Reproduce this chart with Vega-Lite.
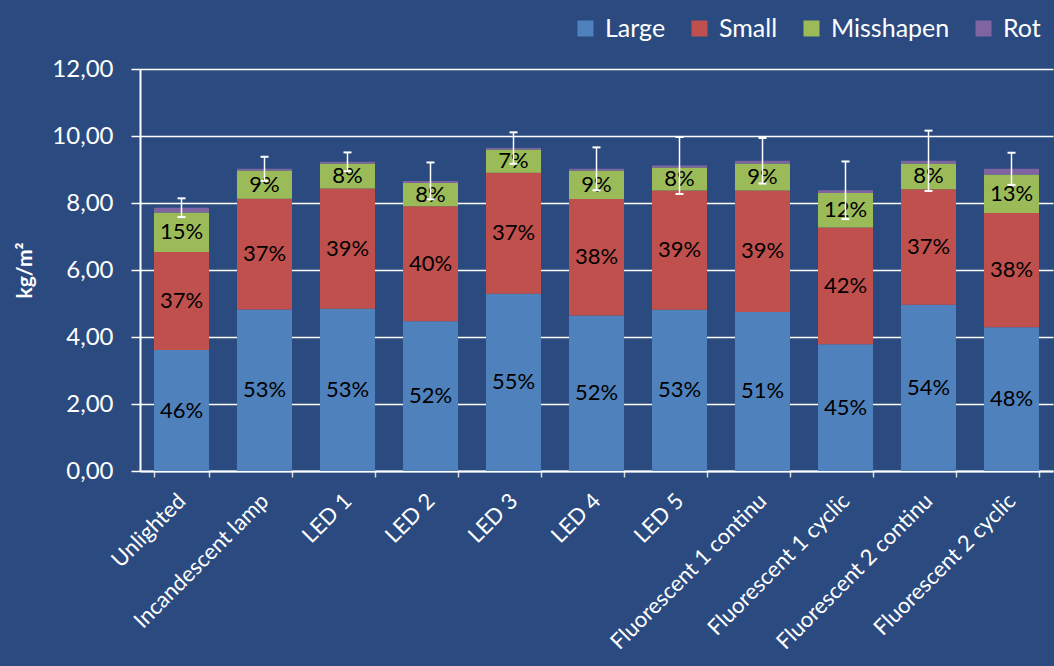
{
  "$schema": "https://vega.github.io/schema/vega-lite/v6.json",
  "width": 913,
  "height": 402,
  "autosize": {"type": "none"},
  "padding": {"left": 140, "top": 69, "right": 1, "bottom": 195},
  "background": "#2b4b80",
  "config": {
    "view": {"stroke": null},
    "font": "Lato",
    "locale": {"number": {"decimal": ",", "thousands": ".", "grouping": [3], "currency": ["", " €"]}}
  },
  "datasets": {
    "seg": [
      {"cond": "Unlighted", "part": "Large", "kg": 3.61, "pct": "46%"},
      {"cond": "Unlighted", "part": "Small", "kg": 2.93, "pct": "37%"},
      {"cond": "Unlighted", "part": "Misshapen", "kg": 1.18, "pct": "15%"},
      {"cond": "Unlighted", "part": "Rot", "kg": 0.14, "pct": ""},
      {"cond": "Incandescent lamp", "part": "Large", "kg": 4.82, "pct": "53%"},
      {"cond": "Incandescent lamp", "part": "Small", "kg": 3.31, "pct": "37%"},
      {"cond": "Incandescent lamp", "part": "Misshapen", "kg": 0.84, "pct": "9%"},
      {"cond": "Incandescent lamp", "part": "Rot", "kg": 0.05, "pct": ""},
      {"cond": "LED 1", "part": "Large", "kg": 4.84, "pct": "53%"},
      {"cond": "LED 1", "part": "Small", "kg": 3.59, "pct": "39%"},
      {"cond": "LED 1", "part": "Misshapen", "kg": 0.75, "pct": "8%"},
      {"cond": "LED 1", "part": "Rot", "kg": 0.05, "pct": ""},
      {"cond": "LED 2", "part": "Large", "kg": 4.47, "pct": "52%"},
      {"cond": "LED 2", "part": "Small", "kg": 3.43, "pct": "40%"},
      {"cond": "LED 2", "part": "Misshapen", "kg": 0.70, "pct": "8%"},
      {"cond": "LED 2", "part": "Rot", "kg": 0.06, "pct": ""},
      {"cond": "LED 3", "part": "Large", "kg": 5.29, "pct": "55%"},
      {"cond": "LED 3", "part": "Small", "kg": 3.61, "pct": "37%"},
      {"cond": "LED 3", "part": "Misshapen", "kg": 0.70, "pct": "7%"},
      {"cond": "LED 3", "part": "Rot", "kg": 0.04, "pct": ""},
      {"cond": "LED 4", "part": "Large", "kg": 4.64, "pct": "52%"},
      {"cond": "LED 4", "part": "Small", "kg": 3.48, "pct": "38%"},
      {"cond": "LED 4", "part": "Misshapen", "kg": 0.85, "pct": "9%"},
      {"cond": "LED 4", "part": "Rot", "kg": 0.05, "pct": ""},
      {"cond": "LED 5", "part": "Large", "kg": 4.81, "pct": "53%"},
      {"cond": "LED 5", "part": "Small", "kg": 3.56, "pct": "39%"},
      {"cond": "LED 5", "part": "Misshapen", "kg": 0.69, "pct": "8%"},
      {"cond": "LED 5", "part": "Rot", "kg": 0.06, "pct": ""},
      {"cond": "Fluorescent 1 continu", "part": "Large", "kg": 4.75, "pct": "51%"},
      {"cond": "Fluorescent 1 continu", "part": "Small", "kg": 3.62, "pct": "39%"},
      {"cond": "Fluorescent 1 continu", "part": "Misshapen", "kg": 0.81, "pct": "9%"},
      {"cond": "Fluorescent 1 continu", "part": "Rot", "kg": 0.08, "pct": ""},
      {"cond": "Fluorescent 1 cyclic", "part": "Large", "kg": 3.78, "pct": "45%"},
      {"cond": "Fluorescent 1 cyclic", "part": "Small", "kg": 3.49, "pct": "42%"},
      {"cond": "Fluorescent 1 cyclic", "part": "Misshapen", "kg": 1.03, "pct": "12%"},
      {"cond": "Fluorescent 1 cyclic", "part": "Rot", "kg": 0.08, "pct": ""},
      {"cond": "Fluorescent 2 continu", "part": "Large", "kg": 4.96, "pct": "54%"},
      {"cond": "Fluorescent 2 continu", "part": "Small", "kg": 3.45, "pct": "37%"},
      {"cond": "Fluorescent 2 continu", "part": "Misshapen", "kg": 0.77, "pct": "8%"},
      {"cond": "Fluorescent 2 continu", "part": "Rot", "kg": 0.08, "pct": ""},
      {"cond": "Fluorescent 2 cyclic", "part": "Large", "kg": 4.29, "pct": "48%"},
      {"cond": "Fluorescent 2 cyclic", "part": "Small", "kg": 3.41, "pct": "38%"},
      {"cond": "Fluorescent 2 cyclic", "part": "Misshapen", "kg": 1.15, "pct": "13%"},
      {"cond": "Fluorescent 2 cyclic", "part": "Rot", "kg": 0.17, "pct": ""}
    ],
    "parts": [
      {"part": "Large", "ord": 1},
      {"part": "Small", "ord": 2},
      {"part": "Misshapen", "ord": 3},
      {"part": "Rot", "ord": 4}
    ],
    "err": [
      {"cond": "Unlighted", "lo": 7.58, "hi": 8.14},
      {"cond": "Incandescent lamp", "lo": 8.66, "hi": 9.38},
      {"cond": "LED 1", "lo": 8.95, "hi": 9.51},
      {"cond": "LED 2", "lo": 8.11, "hi": 9.21},
      {"cond": "LED 3", "lo": 9.17, "hi": 10.11},
      {"cond": "LED 4", "lo": 8.38, "hi": 9.66},
      {"cond": "LED 5", "lo": 8.27, "hi": 9.97},
      {"cond": "Fluorescent 1 continu", "lo": 8.58, "hi": 9.94},
      {"cond": "Fluorescent 1 cyclic", "lo": 7.52, "hi": 9.24},
      {"cond": "Fluorescent 2 continu", "lo": 8.36, "hi": 10.16},
      {"cond": "Fluorescent 2 cyclic", "lo": 8.54, "hi": 9.50}
    ]
  },
  "encoding": {
    "x": {
      "field": "cond",
      "type": "nominal",
      "scale": {
        "domain": ["Unlighted", "Incandescent lamp", "LED 1", "LED 2", "LED 3", "LED 4", "LED 5", "Fluorescent 1 continu", "Fluorescent 1 cyclic", "Fluorescent 2 continu", "Fluorescent 2 cyclic"],
        "paddingInner": 0.337,
        "paddingOuter": 0.1685
      },
      "axis": {
        "title": null,
        "labelAngle": -45,
        "labelAlign": "right",
        "labelBaseline": "middle",
        "labelFont": "Lato",
        "labelFontSize": 22,
        "labelColor": "#ffffff",
        "labelPadding": 20,
        "domainColor": "#ffffff",
        "domainWidth": 2,
        "tickColor": "#d9d9d9",
        "tickWidth": 1.5,
        "tickSize": 6,
        "tickBand": "extent",
        "labelOverlap": false,
        "labelLimit": 400
      }
    }
  },
  "layer": [
    {
      "data": {"name": "seg"},
      "transform": [
        {"lookup": "part", "from": {"data": {"name": "parts"}, "key": "part", "fields": ["ord"]}},
        {"stack": "kg", "groupby": ["cond"], "sort": [{"field": "ord", "order": "ascending"}], "as": ["y0", "y1"]}
      ],
      "layer": [
        {
          "mark": {"type": "bar"},
          "encoding": {
            "y": {
              "field": "y0",
              "type": "quantitative",
              "scale": {"domain": [0, 12], "nice": false},
              "axis": {
                "title": "kg/m²",
                "titleColor": "#ffffff",
                "titleFont": "Lato",
                "titleFontSize": 21,
                "titleFontWeight": "bold",
                "titlePadding": 16,
                "values": [0, 2, 4, 6, 8, 10, 12],
                "format": ".2f",
                "labelFont": "Lato",
                "labelFontSize": 24,
                "labelColor": "#ffffff",
                "labelPadding": 18,
                "tickColor": "#ffffff",
                "tickSize": 9,
                "tickWidth": 1.5,
                "domainColor": "#ffffff",
                "domainWidth": 2,
                "grid": true,
                "gridColor": "#ffffff",
                "gridWidth": 1.5
              }
            },
            "y2": {"field": "y1"},
            "color": {
              "field": "part",
              "type": "nominal",
              "scale": {
                "domain": ["Large", "Small", "Misshapen", "Rot"],
                "range": ["#4f81bd", "#c0504d", "#9bbb59", "#8064a2"]
              },
              "legend": {
                "title": null,
                "orient": "none",
                "direction": "horizontal",
                "legendX": 433,
                "legendY": -53,
                "symbolType": "square",
                "symbolSize": 256,
                "symbolStrokeWidth": 0,
                "symbolOpacity": 1,
                "labelFont": "Lato",
                "labelFontSize": 25,
                "labelColor": "#ffffff",
                "labelOffset": 7,
                "columnPadding": 21,
                "gridAlign": "none"
              }
            }
          }
        },
        {
          "transform": [
            {"filter": {"field": "part", "oneOf": ["Large", "Small", "Misshapen"]}},
            {"fold": ["y0", "y1"], "as": ["end", "val"]}
          ],
          "mark": {"type": "text", "font": "Lato", "fontSize": 22, "color": "#000000", "baseline": "middle", "align": "center"},
          "encoding": {
            "y": {"aggregate": "mean", "field": "val", "type": "quantitative"},
            "detail": {"field": "part"},
            "text": {"field": "pct"}
          }
        }
      ]
    },
    {
      "data": {"name": "err"},
      "layer": [
        {
          "mark": {"type": "rule", "color": "#ffffff", "strokeWidth": 1.5},
          "encoding": {
            "y": {"field": "lo", "type": "quantitative"},
            "y2": {"field": "hi"}
          }
        },
        {
          "mark": {"type": "tick", "color": "#ffffff", "size": 8, "thickness": 2, "orient": "horizontal", "opacity": 1},
          "encoding": {"y": {"field": "lo", "type": "quantitative"}}
        },
        {
          "mark": {"type": "tick", "color": "#ffffff", "size": 8, "thickness": 2, "orient": "horizontal", "opacity": 1},
          "encoding": {"y": {"field": "hi", "type": "quantitative"}}
        }
      ]
    }
  ]
}
